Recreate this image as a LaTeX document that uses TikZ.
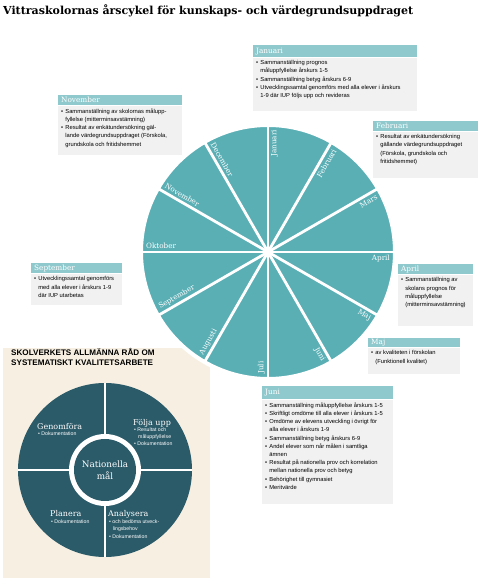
\documentclass[tikz,border=0pt]{standalone}
\usepackage{fontspec}
\usepackage{graphicx}
\setmainfont{Liberation Sans}
\newfontfamily\slab{DejaVu Serif}
\usetikzlibrary{calc}
\definecolor{wheelc}{HTML}{5AAFB5}
\definecolor{hdrc}{HTML}{8FC9CD}
\definecolor{boxc}{HTML}{F1F1F1}
\definecolor{darkc}{HTML}{2B5A69}
\definecolor{creamc}{HTML}{F7F0E2}
\newcommand\bodyf{\fontsize{5.8}{8.2}\selectfont}
\newcommand\itm{\makebox[4.2pt][l]{\textbullet}}
\newcommand\ind{\hspace*{4.2pt}}
\newcommand\bx[3]{\parbox[c][\dimexpr#2pt-6pt\relax][t]{\dimexpr#1pt-6pt\relax}{\bodyf #3}}
\newcommand\hd[3]{\parbox[c][#2pt][c]{\dimexpr#1pt-6pt\relax}{#3}}
\begin{document}
\begin{tikzpicture}[x=1pt,y=1pt,
  hdr/.style={fill=hdrc, text=white, anchor=north west, inner xsep=3pt, inner ysep=0pt, font=\slab\fontsize{7.3}{8}\selectfont},
  body/.style={fill=boxc, anchor=north west, inner xsep=3pt, inner ysep=3pt},
  monthlbl/.style={text=white, inner sep=0pt, font=\slab\fontsize{7.2}{8}\selectfont},
  spoke/.style={white, line width=2.8pt},
  qtitle/.style={text=white, anchor=base west, inner sep=0pt, font=\slab\fontsize{8}{9}\selectfont},
  qsub/.style={text=white, anchor=base west, inner sep=0pt, font=\fontsize{5.2}{6}\selectfont},
]
\useasboundingbox (0,0) rectangle (480,579);

% title
\node[anchor=west, inner sep=0pt] (title) at (3,568.5)
  {\resizebox{410pt}{!}{\slab\bfseries Vittraskolornas årscykel för kunskaps- och värdegrundsuppdraget}};

% cream panel
\fill[creamc] (3,1) rectangle (210,231);

% wheel
\coordinate (C) at (268,327);
\node[circle, fill=wheelc, draw=white, line width=4pt, minimum size=254pt, inner sep=0pt] (wheel) at (C) {};
\foreach \a in {0,30,...,150}
  \draw[spoke] ($(C)+(\a:127)$) -- ($(C)+(\a+180:127)$);
\foreach \a/\t in {90/Januari,60/Februari,30/Mars,0/April,-30/Maj,-60/Juni}
  \node[monthlbl, rotate=\a, anchor=east] (m\t) at ($(C)+(\a:122)+(\a-90:6.5)$) {\t};
\foreach \a/\t in {-90/Juli,-120/Augusti,-150/September,180/Oktober,150/November,120/December}
  \node[monthlbl, rotate=\a+180, anchor=west] (m\t) at ($(C)+(\a:122)+(\a-90:6.5)$) {\t};

% Januari
\node[hdr] (janh) at (253,534) {\hd{164}{12}{Januari}};
\node[body] (janb) at (janh.south west) {\bx{164}{53}{%
\itm Sammanställning prognos\\
\ind måluppfyllelse årskurs 1-5\\
\itm Sammanställning betyg årskurs 6-9\\
\itm Utvecklingssamtal genomförs med alla elever i årskurs\\
\ind 1-9 där IUP följs upp och revideras}};

% Februari
\node[hdr] (febh) at (373,458) {\hd{105}{10}{Februari}};
\node[body] (febb) at (febh.south west) {\bx{105}{46}{%
\itm Resultat av enkätundersökning\\
\ind gällande värdegrundsuppdraget\\
\ind (Förskola, grundskola och\\
\ind fritidshemmet)}};

% November
\node[hdr] (novh) at (58,484) {\hd{124}{10}{November}};
\node[body] (novb) at (novh.south west) {\bx{124}{49}{%
\itm Sammanställning av skolornas målupp-\\
\ind fyllelse (mitterminsavstämning)\\
\itm Resultat av enkätundersökning gäl-\\
\ind lande värdegrundsuppdraget (Förskola,\\
\ind grundskola och fritidshemmet}};

% September
\node[hdr] (seph) at (31,316) {\hd{91}{10}{September}};
\node[body] (sepb) at (seph.south west) {\bx{91}{31}{%
\itm Utvecklingssamtal genomförs\\
\ind med alla elever i årskurs 1-9\\
\ind där IUP utarbetas}};

% April
\node[hdr] (aprh) at (398,315) {\hd{75}{10}{April}};
\node[body] (aprb) at (aprh.south west) {\bx{75}{51}{%
\itm Sammanställning av\\
\ind skolans prognos för\\
\ind måluppfyllelse\\
\ind (mitterminsavstämning)}};

% Maj
\node[hdr] (majh) at (368,241) {\hd{92}{9}{Maj}};
\node[body] (majb) at (majh.south west) {\bx{92}{26}{%
\itm av kvaliteten i förskolan\\
\ind (Funktionell kvalitet)}};

% Juni
\node[hdr] (junh) at (262,193) {\hd{131}{13}{Juni}};
\node[body] (junb) at (junh.south west) {\bx{131}{104}{%
\itm Sammanställning måluppfyllelse årskurs 1-5\\
\itm Skriftligt omdöme till alla elever i årskurs 1-5\\
\itm Omdöme av elevens utveckling i övrigt för\\
\ind alla elever i årskurs 1-9\\
\itm Sammanställning betyg årskurs 6-9\\
\itm Andel elever som når målen i samtliga\\
\ind ämnen\\
\itm Resultat på nationella prov och korrelation\\
\ind mellan nationella prov och betyg\\
\itm Behörighet till gymnasiet\\
\itm Meritvärde}};

% Skolverket panel
\node[anchor=base west, inner sep=0pt, align=left, font=\bfseries\fontsize{8.1}{10}\selectfont] (ptitle) at (11,213)
  {SKOLVERKETS ALLMÄNNA RÅD OM\\SYSTEMATISKT KVALITETSARBETE};
\coordinate (D) at (105,109);
\node[circle, fill=darkc, minimum size=174pt, inner sep=0pt] (dark) at (D) {};
\draw[white, line width=2.2pt] ($(D)+(0,87)$) -- ($(D)+(0,-87)$);
\draw[white, line width=2.2pt] ($(D)+(-87,0)$) -- ($(D)+(87,0)$);
\node[circle, fill=white, minimum size=72pt, inner sep=0pt] (ring) at (D) {};
\node[circle, fill=darkc, minimum size=62pt, inner sep=0pt, text=white, align=center,
  font=\slab\fontsize{8.8}{12.5}\selectfont] (goal) at (D) {Nationella\\mål};

\node[qtitle] (genom) at (37,149) {Genomföra};
\node[qsub] (genom1) at (38,143) {\textbullet\ Dokumentation};

\node[qtitle] (folja) at (133,153) {Följa upp};
\node[qsub] (folja1) at (134,147) {\textbullet\ Resultat och};
\node[qsub] (folja2) at (138,140) {måluppfyllelse};
\node[qsub] (folja3) at (134,133) {\textbullet\ Dokumentation};

\node[qtitle] (plan) at (50,62) {Planera};
\node[qsub] (plan1) at (51,56) {\textbullet\ Dokumentation};

\node[qtitle] (anal) at (108,62) {Analysera};
\node[qsub] (anal1) at (109,55) {\textbullet\ och bedöma utveck-};
\node[qsub] (anal2) at (112.6,48) {lingsbehov};
\node[qsub] (anal3) at (109,41) {\textbullet\ Dokumentation};
\end{tikzpicture}
\end{document}
